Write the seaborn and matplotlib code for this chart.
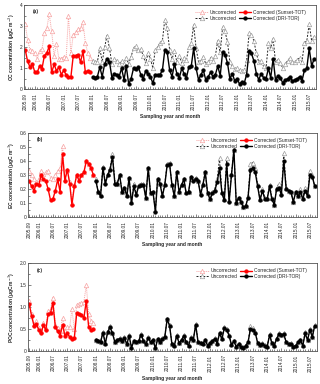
import pandas as pd
import numpy as np
import matplotlib
matplotlib.use("Agg")
import matplotlib.pyplot as plt
import matplotlib.dates as mdates
from matplotlib.lines import Line2D
from matplotlib.ticker import MultipleLocator
import seaborn as sns

# months of each instrument period
red_months = pd.date_range("2005-09-01", "2007-12-01", freq="MS")
black_months = pd.date_range("2008-01-01", "2015-09-01", freq="MS")

tick_labels = ["2005.09", "2006.01", "2006.07", "2007.01", "2007.07", "2008.01", "2008.07",
               "2009.01", "2009.07", "2010.01", "2010.07", "2011.01", "2011.07", "2012.01",
               "2012.07", "2013.01", "2013.07", "2014.01", "2014.07", "2015.01", "2015.07"]

# (a) OC
oc_red_unc = [3.1, 2.35, 1.85, 1.8, 1.7, 1.45, 1.8, 1.9, 2.65, 2.9, 3.57, 2.75, 1.6, 2.15,
              1.45, 1.45, 1.55, 1.5, 3.5, 1.7, 2.6, 2.7, 2.85, 2.9, 3.2, 2.2, 1.7, 1.5]
oc_red_cor = [1.87, 1.33, 1.05, 1.2, 0.8, 0.82, 1.1, 0.98, 1.6, 1.72, 2.05, 0.8, 1.18, 0.88,
              1.05, 0.7, 0.9, 0.68, 0.6, 0.58, 1.6, 1.6, 1.65, 1.3, 1.8, 0.82, 0.88, 0.84]
oc_blk_unc = [1.35, 1.3, 1.3, 1.95, 1.3, 2.0, 2.55, 1.95, 1.2, 1.45, 1.35, 1.2,
              1.35, 1.2, 1.5, 1.2, 1.55, 1.95, 2.05, 1.85, 1.9, 1.6, 1.25, 1.7,
              1.45, 1.0, 1.85, 2.0, 2.2, 2.3, 3.3, 2.9, 1.85, 1.45, 1.8, 1.3,
              1.6, 1.25, 1.5, 1.4, 2.0, 2.2, 3.05, 1.95, 1.3, 1.35, 1.55, 1.2,
              1.3, 1.5, 1.35, 1.6, 2.3, 1.75, 2.95, 2.75, 2.25, 1.3, 1.1, 0.95,
              1.0, 0.9, 0.85, 0.9, 1.4, 2.65, 2.6, 2.3, 1.7, 1.3, 1.35, 1.1,
              1.0, 2.2, 1.95, 2.4, 1.3, 1.4, 1.25, 1.0, 1.2, 1.35, 1.5, 1.3,
              1.3, 1.4, 1.5, 1.3, 2.2, 2.3, 3.1, 2.3, 2.5]
oc_blk_cor = [0.6, 0.55, 0.6, 1.05, 0.6, 1.2, 1.45, 1.3, 0.55, 0.75, 0.7, 0.6,
              1.0, 0.45, 1.1, 0.25, 0.5, 1.0, 0.95, 1.05, 0.7, 0.5, 0.85, 0.75,
              0.6, 0.28, 0.7, 0.7, 0.7, 0.9, 1.85, 1.75, 0.9, 0.6, 1.2, 0.75,
              0.55, 1.0, 0.75, 0.55, 1.05, 1.1, 1.95, 1.0, 0.45, 0.7, 0.9, 0.45,
              0.6, 0.8, 0.6, 0.7, 1.1, 0.65, 1.75, 1.65, 1.25, 0.5, 0.75, 0.4,
              0.5, 0.25, 0.35, 0.3, 0.7, 1.8, 1.7, 1.35, 0.75, 0.45, 0.75, 0.55,
              0.5, 1.0, 0.55, 1.45, 0.45, 0.65, 0.55, 0.3, 0.45, 0.5, 0.6, 0.4,
              0.45, 0.5, 0.6, 0.4, 0.9, 1.0, 1.95, 1.1, 1.45]

# (b) EC
ec_red_unc = [0.33, 0.3, 0.27, 0.25, 0.27, 0.33, 0.31, 0.32, 0.33, 0.28, 0.27, 0.3, 0.33, 0.35,
              0.51, 0.27, 0.34, 0.25, 0.1, 0.23, 0.3, 0.27, 0.3, 0.32, 0.4, 0.38, 0.35, 0.3]
ec_red_cor = [0.26, 0.22, 0.19, 0.24, 0.23, 0.3, 0.27, 0.26, 0.2, 0.12, 0.13, 0.19, 0.27, 0.18,
              0.45, 0.26, 0.34, 0.24, 0.09, 0.22, 0.3, 0.26, 0.3, 0.32, 0.4, 0.38, 0.35, 0.3]
ec_blk_unc = [0.27, 0.18, 0.16, 0.36, 0.25, 0.31, 0.35, 0.45, 0.25, 0.24, 0.3, 0.18,
              0.21, 0.16, 0.28, 0.11, 0.24, 0.17, 0.23, 0.24, 0.24, 0.14, 0.35, 0.17,
              0.18, 0.05, 0.27, 0.24, 0.16, 0.24, 0.38, 0.39, 0.23, 0.15, 0.32, 0.18,
              0.23, 0.27, 0.18, 0.18, 0.29, 0.27, 0.28, 0.26, 0.17, 0.24, 0.32, 0.17,
              0.13, 0.18, 0.2, 0.27, 0.42, 0.18, 0.13, 0.42, 0.12, 0.31, 0.48, 0.1,
              0.14, 0.11, 0.07, 0.08, 0.15, 0.38, 0.39, 0.35, 0.23, 0.13, 0.2, 0.14,
              0.14, 0.23, 0.14, 0.09, 0.21, 0.24, 0.17, 0.46, 0.21, 0.19, 0.18, 0.11,
              0.18, 0.15, 0.2, 0.14, 0.21, 0.16, 0.33, 0.3, 0.22]
ec_blk_cor = [0.26, 0.18, 0.15, 0.35, 0.24, 0.3, 0.34, 0.43, 0.24, 0.24, 0.3, 0.18,
              0.21, 0.15, 0.28, 0.1, 0.22, 0.16, 0.22, 0.23, 0.23, 0.14, 0.35, 0.17,
              0.18, 0.04, 0.27, 0.24, 0.15, 0.23, 0.37, 0.38, 0.23, 0.15, 0.32, 0.18,
              0.23, 0.27, 0.17, 0.18, 0.29, 0.26, 0.27, 0.26, 0.16, 0.23, 0.32, 0.17,
              0.13, 0.17, 0.19, 0.25, 0.35, 0.17, 0.12, 0.38, 0.11, 0.3, 0.48, 0.1,
              0.14, 0.11, 0.07, 0.08, 0.14, 0.34, 0.35, 0.32, 0.22, 0.12, 0.19, 0.13,
              0.13, 0.22, 0.13, 0.09, 0.2, 0.21, 0.16, 0.4, 0.2, 0.19, 0.18, 0.11,
              0.18, 0.15, 0.18, 0.13, 0.19, 0.15, 0.3, 0.29, 0.22]

# (c) POC
poc_red_unc = [1.15, 0.85, 0.62, 0.68, 0.52, 0.45, 0.65, 0.52, 0.92, 0.95, 1.22, 0.6, 0.52, 0.45,
               0.75, 0.45, 0.55, 0.55, 0.95, 0.5, 1.05, 1.07, 1.1, 1.12, 1.5, 0.85, 0.68, 0.65]
poc_red_cor = [1.07, 0.8, 0.58, 0.62, 0.48, 0.4, 0.6, 0.47, 0.85, 0.87, 1.1, 0.55, 0.45, 0.35,
               0.6, 0.35, 0.4, 0.32, 0.27, 0.3, 0.86, 0.85, 0.83, 0.75, 1.15, 0.55, 0.48, 0.5]
poc_blk_unc = [0.26, 0.23, 0.21, 0.43, 0.18, 0.44, 0.56, 0.41, 0.21, 0.26, 0.29, 0.23,
               0.31, 0.16, 0.36, 0.09, 0.23, 0.21, 0.23, 0.38, 0.24, 0.16, 0.31, 0.21,
               0.26, 0.07, 0.28, 0.21, 0.29, 0.33, 0.73, 0.59, 0.16, 0.13, 0.36, 0.19,
               0.26, 0.36, 0.21, 0.13, 0.31, 0.26, 0.61, 0.21, 0.19, 0.18, 0.26, 0.13,
               0.19, 0.23, 0.29, 0.18, 0.42, 0.29, 0.55, 0.5, 0.36, 0.15, 0.23, 0.11,
               0.16, 0.11, 0.09, 0.13, 0.21, 0.57, 0.52, 0.44, 0.19, 0.14, 0.18, 0.13,
               0.11, 0.38, 0.19, 0.13, 0.29, 0.4, 0.37, 0.4, 0.21, 0.16, 0.18, 0.11,
               0.13, 0.21, 0.26, 0.13, 0.43, 0.26, 0.5, 0.33, 0.6]
poc_blk_cor = [0.25, 0.22, 0.2, 0.42, 0.17, 0.43, 0.55, 0.4, 0.2, 0.25, 0.28, 0.22,
               0.3, 0.15, 0.35, 0.08, 0.22, 0.2, 0.22, 0.37, 0.23, 0.15, 0.3, 0.2,
               0.25, 0.06, 0.27, 0.2, 0.28, 0.32, 0.72, 0.58, 0.15, 0.12, 0.35, 0.18,
               0.25, 0.35, 0.2, 0.12, 0.3, 0.25, 0.6, 0.2, 0.18, 0.17, 0.25, 0.12,
               0.18, 0.22, 0.28, 0.17, 0.4, 0.27, 0.52, 0.48, 0.35, 0.14, 0.22, 0.1,
               0.15, 0.1, 0.08, 0.12, 0.2, 0.5, 0.48, 0.42, 0.18, 0.13, 0.17, 0.12,
               0.1, 0.37, 0.18, 0.12, 0.28, 0.38, 0.36, 0.38, 0.2, 0.15, 0.17, 0.1,
               0.12, 0.2, 0.25, 0.12, 0.4, 0.25, 0.48, 0.32, 0.58]

RED = "#ff0000"
PINK = "#f7a3a3"
GREY = "#a0a0a0"
FS = 3.5

UNC_STYLE = dict(marker="^", markersize=3.2, markerfacecolor="white", markeredgewidth=0.5,
                 linewidth=0.7)
COR_STYLE = dict(marker="o", markersize=2.7, markeredgewidth=0.3, linewidth=1.0)


def draw_panel(ax, tag, ylabel, ylim, ystep, red_unc, red_cor, blk_unc, blk_cor):
    sns.lineplot(x=red_months, y=red_unc, ax=ax, color=PINK, markeredgecolor=PINK,
                 linestyle=(0, (1, 1)), errorbar=None, **UNC_STYLE)
    sns.lineplot(x=black_months, y=blk_unc, ax=ax, color="#222222", markeredgecolor=GREY,
                 linestyle=(0, (2, 1.5)), errorbar=None, **UNC_STYLE)
    sns.lineplot(x=red_months, y=red_cor, ax=ax, color=RED, markeredgecolor=RED,
                 errorbar=None, **COR_STYLE)
    sns.lineplot(x=black_months, y=blk_cor, ax=ax, color="black", markeredgecolor="black",
                 errorbar=None, **COR_STYLE)

    ax.set_xlim(pd.Timestamp("2005-08-20"), pd.Timestamp("2015-09-25"))
    ax.set_ylim(*ylim)
    ax.yaxis.set_major_locator(MultipleLocator(ystep))
    ax.yaxis.set_minor_locator(MultipleLocator(ystep / 2))
    ax.yaxis.set_major_formatter(plt.FuncFormatter(lambda v, p: "0" if v == 0 else
                                                   (f"{v:g}" if ystep >= 1 else f"{v:.1f}")))

    tick_dates = [pd.Timestamp(t.replace(".", "-") + "-01") for t in tick_labels]
    ax.set_xticks(tick_dates)
    ax.set_xticklabels(tick_labels, rotation=90)
    ax.xaxis.set_minor_locator(mdates.MonthLocator())

    ax.tick_params(which="both", direction="in", top=False, right=False, labelsize=FS,
                   width=0.4, pad=1.5)
    ax.tick_params(which="major", length=2.2)
    ax.tick_params(which="minor", length=1.2)
    ax.tick_params(axis="x", labelsize=3.4, pad=2.5)
    for s in ax.spines.values():
        s.set_linewidth(0.6)
        s.set_color("#555555")

    ax.set_xlabel("Sampling year and month", fontsize=FS, fontweight="bold", labelpad=3)
    ax.set_ylabel(ylabel, fontsize=FS, fontweight="bold", labelpad=2)
    ax.text(0.03, 0.9, tag, transform=ax.transAxes, fontsize=FS, fontweight="bold")

    handles = [
        Line2D([], [], color=PINK, linestyle=(0, (1, 1)), markeredgecolor=PINK, **UNC_STYLE),
        Line2D([], [], color="#222222", linestyle=(0, (2, 1.5)), markeredgecolor=GREY, **UNC_STYLE),
        Line2D([], [], color=RED, markeredgecolor=RED, **COR_STYLE),
        Line2D([], [], color="black", markeredgecolor="black", **COR_STYLE),
    ]
    labels = ["Uncorrected", "Uncorrected", "Corrected (Sunset-TOT)", "Corrected (DRI-TOR)"]
    ax.legend(handles, labels, ncol=2, loc="upper right", bbox_to_anchor=(0.975, 0.975),
              frameon=False, fontsize=FS, handlelength=2.6, handletextpad=0.3,
              columnspacing=0.5, labelspacing=0.1, borderaxespad=0.2)


def main():
    sns.set_style("ticks")
    plt.rcParams["font.family"] = ["Liberation Sans", "DejaVu Sans"]

    fig = plt.figure(figsize=(3.2, 3.84), dpi=100)
    ax_a = fig.add_axes([0.0759, 0.7674, 0.9116, 0.2195])
    ax_b = fig.add_axes([0.0884, 0.4341, 0.9010, 0.2195])
    ax_c = fig.add_axes([0.0884, 0.0859, 0.9010, 0.2284])

    draw_panel(ax_a, "(a)", "OC concentration (μgC m$^{-3}$)", (0, 4), 1,
               oc_red_unc, oc_red_cor, oc_blk_unc, oc_blk_cor)
    draw_panel(ax_b, "(b)", "EC concentration (μgC m$^{-3}$)", (0, 0.6), 0.1,
               ec_red_unc, ec_red_cor, ec_blk_unc, ec_blk_cor)
    draw_panel(ax_c, "(c)", "POC concentration (μgC m$^{-3}$)", (0, 2.0), 0.5,
               poc_red_unc, poc_red_cor, poc_blk_unc, poc_blk_cor)

    fig.savefig("out.png", dpi=100)


if __name__ == "__main__":
    main()
